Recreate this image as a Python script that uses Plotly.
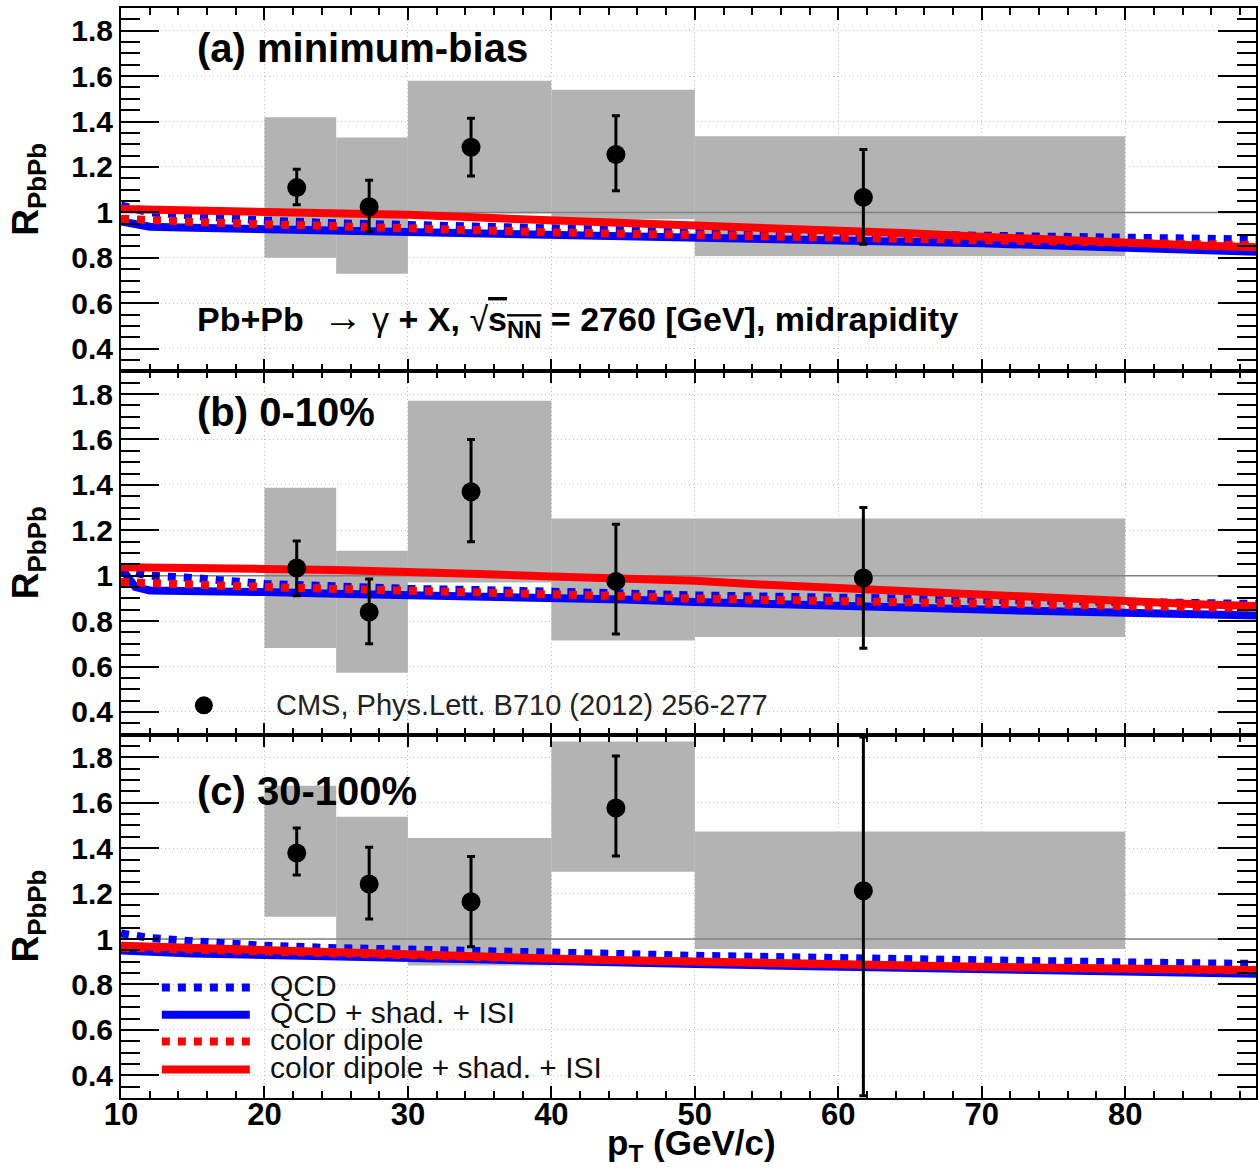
import plotly.graph_objects as go
from plotly.subplots import make_subplots

# ---------------- data ----------------
BIN_LO = [20, 25, 30, 40, 50]
BIN_HI = [25, 30, 40, 50, 80]
PT = [22.25, 27.3, 34.4, 44.5, 61.75]

# minimum-bias
R_A = [1.109, 1.025, 1.287, 1.255, 1.066]
STAT_HI_A = [1.19, 1.141, 1.415, 1.425, 1.277]
STAT_LO_A = [1.034, 0.915, 1.16, 1.095, 0.86]
SYS_HI_A = [1.419, 1.33, 1.58, 1.54, 1.335]
SYS_LO_A = [0.80, 0.73, 0.995, 0.97, 0.808]

# 0-10%
R_B = [1.034, 0.84, 1.37, 0.975, 0.99]
STAT_HI_B = [1.153, 0.985, 1.60, 1.227, 1.30]
STAT_LO_B = [0.912, 0.70, 1.15, 0.743, 0.68]
SYS_HI_B = [1.387, 1.11, 1.77, 1.252, 1.252]
SYS_LO_B = [0.682, 0.573, 0.97, 0.715, 0.73]

# 30-100%
R_C = [1.379, 1.242, 1.164, 1.577, 1.213]
STAT_HI_C = [1.489, 1.404, 1.363, 1.806, 1.89]
STAT_LO_C = [1.282, 1.088, 0.966, 1.366, 0.31]
SYS_HI_C = [1.675, 1.539, 1.445, 1.87, 1.474]
SYS_LO_C = [1.098, 0.945, 0.883, 1.296, 0.956]

# theory curves
CURVE_PT = [10, 11, 12, 15, 20, 25, 30, 35, 40, 45, 50, 55, 60, 65, 70, 75, 80, 85, 90]

QCD_A = [1.03, 1.012, 1.0, 0.985, 0.964, 0.952, 0.943, 0.938, 0.933, 0.922, 0.915, 0.91, 0.905, 0.901, 0.897, 0.892, 0.888, 0.884, 0.88]
QCD_SHAD_A = [0.96, 0.945, 0.937, 0.932, 0.926, 0.922, 0.918, 0.913, 0.907, 0.902, 0.896, 0.89, 0.883, 0.874, 0.864, 0.854, 0.843, 0.834, 0.825]
DIP_A = [0.972, 0.968, 0.965, 0.958, 0.948, 0.937, 0.928, 0.92, 0.912, 0.906, 0.9, 0.895, 0.89, 0.884, 0.878, 0.872, 0.866, 0.86, 0.855]
DIP_SHAD_A = [1.015, 1.014, 1.013, 1.01, 1.006, 0.999, 0.989, 0.977, 0.966, 0.956, 0.946, 0.935, 0.922, 0.908, 0.893, 0.878, 0.864, 0.854, 0.845]

QCD_B = [1.035, 1.012, 1.0, 0.99, 0.964, 0.952, 0.942, 0.937, 0.932, 0.922, 0.913, 0.908, 0.905, 0.901, 0.897, 0.89, 0.883, 0.879, 0.875]
QCD_SHAD_B = [1.035, 0.95, 0.935, 0.935, 0.928, 0.92, 0.915, 0.91, 0.905, 0.895, 0.884, 0.874, 0.866, 0.858, 0.851, 0.843, 0.836, 0.83, 0.824]
DIP_B = [0.972, 0.969, 0.966, 0.96, 0.95, 0.942, 0.934, 0.929, 0.924, 0.91, 0.899, 0.893, 0.888, 0.882, 0.876, 0.871, 0.866, 0.861, 0.856]
DIP_SHAD_B = [1.037, 1.037, 1.036, 1.035, 1.03, 1.025, 1.019, 1.008, 0.997, 0.989, 0.978, 0.96, 0.945, 0.932, 0.914, 0.898, 0.884, 0.874, 0.865]

QCD_C = [1.025, 1.013, 1.005, 0.99, 0.97, 0.96, 0.955, 0.95, 0.945, 0.934, 0.926, 0.92, 0.915, 0.91, 0.904, 0.9, 0.897, 0.893, 0.89]
QCD_SHAD_C = [0.95, 0.946, 0.942, 0.936, 0.93, 0.922, 0.915, 0.91, 0.905, 0.897, 0.89, 0.884, 0.878, 0.873, 0.868, 0.864, 0.86, 0.853, 0.846]
DIP_C = [0.962, 0.96, 0.958, 0.952, 0.945, 0.937, 0.928, 0.92, 0.913, 0.906, 0.899, 0.893, 0.888, 0.882, 0.877, 0.873, 0.869, 0.864, 0.86]
DIP_SHAD_C = [0.97, 0.968, 0.965, 0.957, 0.948, 0.94, 0.928, 0.92, 0.914, 0.907, 0.9, 0.895, 0.89, 0.884, 0.878, 0.874, 0.871, 0.867, 0.863]

X_TICKS = [10, 20, 30, 40, 50, 60, 70, 80]
Y_TICKS = [0.4, 0.6, 0.8, 1.0, 1.2, 1.4, 1.6, 1.8]
Y_TICKTEXT = ["0.4", "0.6", "0.8", "1", "1.2", "1.4", "1.6", "1.8"]
X_RANGE = [10, 89.12]
Y_RANGE = [0.3, 1.9]
UNITY = 1.0

PANEL_LABELS = ["(a) minimum-bias", "(b) 0-10%", "(c) 30-100%"]
LEGEND_NAMES = ["QCD", "QCD + shad. + ISI", "color dipole", "color dipole + shad. + ISI"]
CMS_LABEL = "CMS, Phys.Lett. B710 (2012) 256-277"

# ---------------- style ----------------
FONT = "Liberation Sans, Arial, Helvetica, sans-serif"
BLUE = "#0000ff"
RED = "#ff0000"
BOX = "#b3b3b3"
LW = 8

fig = make_subplots(rows=3, cols=1, shared_xaxes=True, vertical_spacing=0)

panels = [
    (R_A, STAT_HI_A, STAT_LO_A, SYS_HI_A, SYS_LO_A, QCD_A, QCD_SHAD_A, DIP_A, DIP_SHAD_A),
    (R_B, STAT_HI_B, STAT_LO_B, SYS_HI_B, SYS_LO_B, QCD_B, QCD_SHAD_B, DIP_B, DIP_SHAD_B),
    (R_C, STAT_HI_C, STAT_LO_C, SYS_HI_C, SYS_LO_C, QCD_C, QCD_SHAD_C, DIP_C, DIP_SHAD_C),
]

centers = [(a + b) / 2 for a, b in zip(BIN_LO, BIN_HI)]
widths = [b - a for a, b in zip(BIN_LO, BIN_HI)]

for i, (r, shi, slo, yhi, ylo, qcd, qcds, dip, dips) in enumerate(panels):
    row = i + 1
    # systematic boxes
    fig.add_trace(go.Bar(x=centers, width=widths, base=ylo,
                         y=[h - l for h, l in zip(yhi, ylo)],
                         marker=dict(color=BOX, line=dict(width=0)),
                         showlegend=False, hoverinfo="skip"), row=row, col=1)
    # unity line
    fig.add_trace(go.Scatter(x=X_RANGE, y=[UNITY, UNITY], mode="lines",
                             line=dict(color="#808080", width=1.5),
                             showlegend=False, hoverinfo="skip"), row=row, col=1)
    # theory curves
    for vals, color, dash in [(qcds, BLUE, "solid"), (qcd, BLUE, "dot"),
                              (dip, RED, "dot"), (dips, RED, "solid")]:
        fig.add_trace(go.Scatter(x=CURVE_PT, y=vals, mode="lines",
                                 line=dict(color=color, width=LW, dash=dash),
                                 showlegend=False), row=row, col=1)
    # data points
    fig.add_trace(go.Scatter(
        x=PT, y=r, mode="markers",
        marker=dict(color="black", size=19, symbol="circle"),
        error_y=dict(type="data", symmetric=False,
                     array=[h - v for h, v in zip(shi, r)],
                     arrayminus=[v - l for v, l in zip(r, slo)],
                     color="black", thickness=3, width=4),
        showlegend=False), row=row, col=1)

axis_line = dict(showline=True, linecolor="black", linewidth=2, mirror="allticks",
                 ticks="inside", tickcolor="black", tickwidth=2,
                 showgrid=True, gridcolor="#bdbdbd", gridwidth=1, griddash="1px,3px",
                 zeroline=False)

for row in (1, 2, 3):
    fig.update_xaxes(range=X_RANGE, tickvals=X_TICKS, ticklen=12,
                     minor=dict(ticks="inside", ticklen=7, tickwidth=2, tickcolor="black",
                                dtick=2, tick0=10, showgrid=False),
                     tickfont=dict(family=FONT, size=31, color="black", weight="bold"),
                     ticklabelstandoff=-12,
                     showticklabels=(row == 3), row=row, col=1, **axis_line)
    fig.update_yaxes(range=Y_RANGE, tickvals=Y_TICKS, ticktext=Y_TICKTEXT, ticklen=38,
                     minor=dict(ticks="inside", ticklen=19, tickwidth=2, tickcolor="black",
                                dtick=0.05, tick0=0.3, showgrid=False),
                     tickfont=dict(family=FONT, size=30, color="black", weight="bold"),
                     row=row, col=1, **axis_line)

annotations = []
label_y = [1.725, 1.72, 1.65]
for i, (lab, ly) in enumerate(zip(PANEL_LABELS, label_y)):
    ax = "" if i == 0 else str(i + 1)
    annotations.append(dict(text="<b>%s</b>" % lab, x=0.0651, y=ly,
                            xref="x%s domain" % ax, yref="y%s" % ax,
                            xanchor="left", yanchor="middle", showarrow=False,
                            font=dict(family=FONT, size=40, color="black")))
    annotations.append(dict(text="<b>R<sub>PbPb</sub></b>", x=-0.0818, y=0.5,
                            xref="paper", yref="y%s domain" % ax, textangle=-90,
                            xanchor="center", yanchor="middle", showarrow=False,
                            font=dict(family=FONT, size=37, color="black")))

nb = "\u00a0"
formula = ("<b>Pb+Pb</b>" + nb * 2 + "<span style='font-size:40px'>\u2192</span>" + nb +
           "\u03b3" + nb + "<b>+ X,</b>" + nb +
           "\u221a<span style='text-decoration:overline'><b>s<sub>NN</sub></b></span>" +
           nb + "<b>= 2760 [GeV], midrapidity</b>")
annotations.append(dict(text=formula, x=0.0651, y=0.53, xref="x domain", yref="y",
                        xanchor="left", yanchor="middle", showarrow=False,
                        font=dict(family=FONT, size=34, color="black")))

annotations.append(dict(text=CMS_LABEL, x=0.1346, y=0.432, xref="x2 domain", yref="y2",
                        xanchor="left", yanchor="middle", showarrow=False,
                        font=dict(family=FONT, size=29, color="#222222")))

annotations.append(dict(text="<b>p<sub>T</sub> (GeV/c)</b>", x=0.503, y=-0.043,
                        xref="paper", yref="paper", xanchor="center", yanchor="middle",
                        showarrow=False, font=dict(family=FONT, size=35, color="black")))

# legend (panel c)
LEG_Y = [0.787, 0.667, 0.549, 0.426]
LEG_STYLE = [(BLUE, "dot"), (BLUE, "solid"), (RED, "dot"), (RED, "solid")]
shapes = []
for name, ly, (color, dash) in zip(LEGEND_NAMES, LEG_Y, LEG_STYLE):
    shapes.append(dict(type="line", xref="x3 domain", yref="y3",
                       x0=0.036, x1=0.1135, y0=ly, y1=ly,
                       line=dict(color=color, width=LW, dash=dash)))
    annotations.append(dict(text=name, x=0.1293, y=ly + 0.01, xref="x3 domain", yref="y3",
                            xanchor="left", yanchor="middle", showarrow=False,
                            font=dict(family=FONT, size=30, color="#111111")))

# CMS marker key (panel b)
shapes.append(dict(type="circle", xref="x2 domain", yref="y2",
                   xsizemode="pixel", ysizemode="pixel",
                   xanchor=0.073, yanchor=0.429, x0=-9, x1=9, y0=-9, y1=9,
                   fillcolor="black", line=dict(width=0)))

fig.update_layout(
    width=1258, height=1168,
    margin=dict(l=121, r=0, t=8, b=70),
    paper_bgcolor="white", plot_bgcolor="white",
    barmode="overlay", showlegend=False,
    annotations=annotations, shapes=shapes,
    font=dict(family=FONT, color="black"),
)

fig.write_html("out.html")
